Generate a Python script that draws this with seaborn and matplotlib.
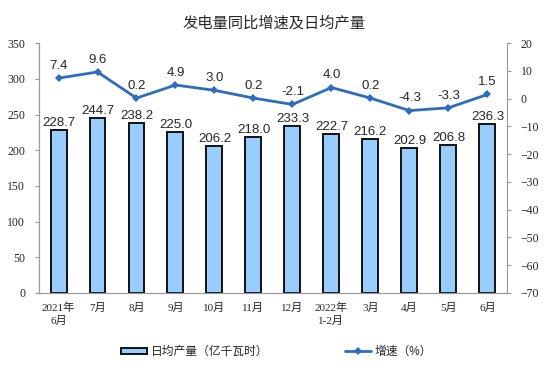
import matplotlib.pyplot as plt
import seaborn as sns
import pandas as pd
import numpy as np

# Data
months = ["2021年\n6月", "7月", "8月", "9月", "10月", "11月", "12月",
          "2022年\n1-2月", "3月", "4月", "5月", "6月"]
daily_output = [228.7, 244.7, 238.2, 225.0, 206.2, 218.0, 233.3,
                222.7, 216.2, 202.9, 206.8, 236.3]
growth = [7.4, 9.6, 0.2, 4.9, 3.0, 0.2, -2.1, 4.0, 0.2, -4.3, -3.3, 1.5]

df = pd.DataFrame({"month": months, "output": daily_output, "growth": growth})

sns.set_style("white")
plt.rcParams['font.family'] = ['Liberation Sans', 'Noto Sans CJK SC']
tick_font = ['Liberation Serif', 'Noto Sans CJK SC']

fig = plt.figure(figsize=(5.59, 3.85), dpi=100)
ax = fig.add_axes([0.0698, 0.239, 0.837, 0.649])

sns.barplot(data=df, x="month", y="output", ax=ax, color="#99CCFF",
            saturation=1, width=0.41, edgecolor="#111111", linewidth=1.4,
            label="日均产量（亿千瓦时）")
ax.set_ylim(0, 350)
ax.set_yticks(range(0, 351, 50))
ax.set_xlim(-0.5, len(months) - 0.5)
ax.set_xlabel("")
ax.set_ylabel("")

for i, v in enumerate(daily_output):
    ax.text(i, v + 1.5, f"{v:.1f}", ha="center", va="bottom", fontsize=9.5)

ax2 = ax.twinx()
sns.lineplot(x=np.arange(len(months)), y=growth, ax=ax2, color="#2E6DBE",
             linewidth=2, marker="D", markersize=4.5, markeredgewidth=0,
             label="增速（%）", legend=False)
ax2.set_ylim(-70, 20)
ax2.set_yticks(range(-70, 21, 10))
ax2.set_xlim(-0.5, len(months) - 0.5)

for i, v in enumerate(growth):
    ax2.text(i, v + 2.2, f"{v:.1f}", ha="center", va="bottom", fontsize=9.5)

# axes styling
for a in (ax, ax2):
    for s in a.spines.values():
        s.set_color("#999999")
        s.set_linewidth(0.8)
    a.spines["top"].set_visible(False)
ax.spines["right"].set_visible(False)

ax.set_xticks(np.arange(len(months)))
ax.set_xticklabels(months, family=tick_font, fontsize=8, linespacing=1.3)
ax.set_xticks(np.arange(len(months)) + 0.5, minor=True)
ax.tick_params(axis="x", which="major", length=0, pad=7)
ax.tick_params(axis="x", which="minor", length=3, color="#999999", direction="out")
ax.tick_params(axis="y", length=3, color="#999999", direction="out", labelsize=8.5, pad=7)
ax2.tick_params(axis="y", length=3, color="#999999", direction="out", labelsize=8.5, pad=7)
for lbl in ax.get_yticklabels() + ax2.get_yticklabels():
    lbl.set_family(tick_font)

fig.text(0.49, 0.94, "发电量同比增速及日均产量", ha="center", va="center", fontsize=11)

h1, l1 = ax.get_legend_handles_labels()
h2, l2 = ax2.get_legend_handles_labels()
if ax.get_legend():
    ax.get_legend().remove()
fig.legend(h1 + h2, l1 + l2, loc="center", bbox_to_anchor=(0.495, 0.085), ncol=2,
           frameon=False, fontsize=8.5, handlelength=2.2, columnspacing=6.5,
           handleheight=0.5, handletextpad=0.3)

plt.savefig("out.png", dpi=100)
plt.close()
